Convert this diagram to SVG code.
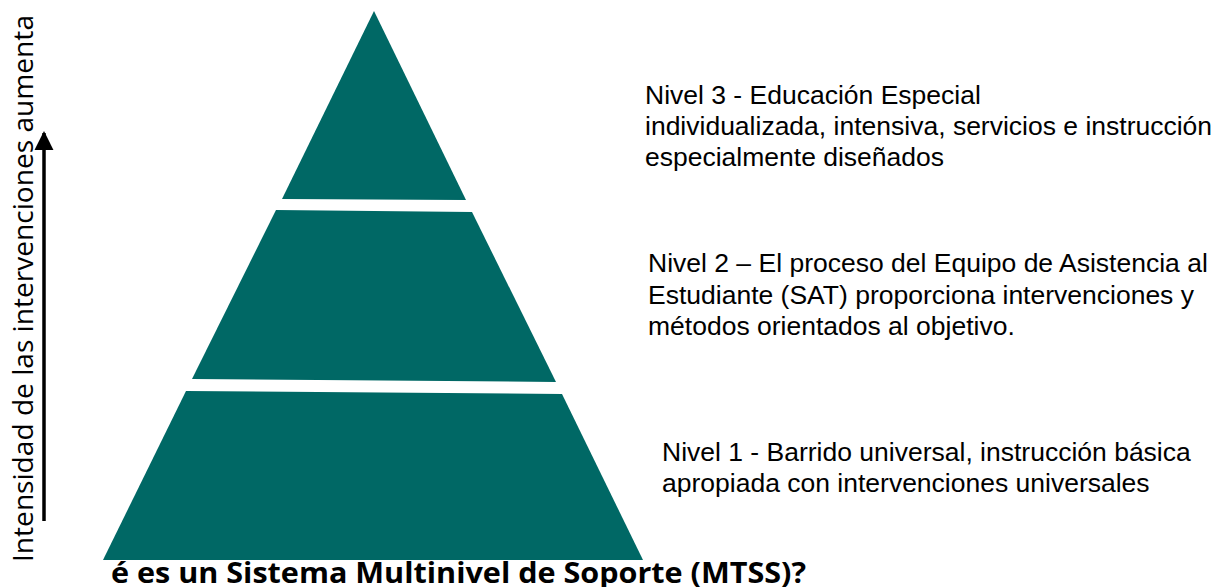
<svg xmlns="http://www.w3.org/2000/svg" width="1217" height="587" viewBox="0 0 1217 587">
<style>
.tier{fill:#006865;stroke:none}
.lbl{font-family:"Liberation Sans",Arial,sans-serif;font-size:26.5px;fill:#000}
.side{font-family:"Open Sans","Liberation Sans",sans-serif;font-size:28px;fill:#000}
.title{font-family:"Open Sans","Liberation Sans",sans-serif;font-weight:bold;font-size:29px;fill:#000}
</style>
<defs>
<marker id="ah" viewBox="0 0 10 10" refX="9" refY="5" markerWidth="5.5" markerHeight="5.5" markerUnits="strokeWidth" orient="auto">
<path d="M0,0 L10,5 L0,10 Z" fill="#000"/>
</marker>
</defs>
<rect width="1217" height="587" fill="#fff"/>
<g id="title">
<text class="title" x="111" y="583" textLength="695" lengthAdjust="spacingAndGlyphs">é es un Sistema Multinivel de Soporte (MTSS)?</text>
</g>
<g id="tier3">
<polygon class="tier" points="374,11 466,200 282,199"/>
</g>
<g id="tier2">
<polygon class="tier" points="276,210 472,212 556,382 192,379"/>
</g>
<g id="tier1">
<polygon class="tier" points="186,391 562,394 643,560 103,560"/>
</g>
<g id="label3">
<text class="lbl" x="645" y="104">Nivel 3 - Educación Especial</text>
<text class="lbl" x="645" y="135">individualizada, intensiva, servicios e instrucción</text>
<text class="lbl" x="645" y="166">especialmente diseñados</text>
</g>
<g id="label2">
<text class="lbl" x="648" y="272">Nivel 2 – El proceso del Equipo de Asistencia al</text>
<text class="lbl" x="648" y="304">Estudiante (SAT) proporciona intervenciones y</text>
<text class="lbl" x="648" y="335">métodos orientados al objetivo.</text>
</g>
<g id="label1">
<text class="lbl" x="662" y="461">Nivel 1 - Barrido universal, instrucción básica</text>
<text class="lbl" x="662" y="492">apropiada con intervenciones universales</text>
</g>
<g id="axis-label">
<text class="side" transform="translate(33,562) rotate(-90)" textLength="547" lengthAdjust="spacingAndGlyphs">Intensidad de las intervenciones aumenta</text>
</g>
<g id="connectors">
<line x1="44" y1="521" x2="44" y2="133" stroke="#000" stroke-width="3.5" marker-end="url(#ah)"/>
</g>
</svg>
